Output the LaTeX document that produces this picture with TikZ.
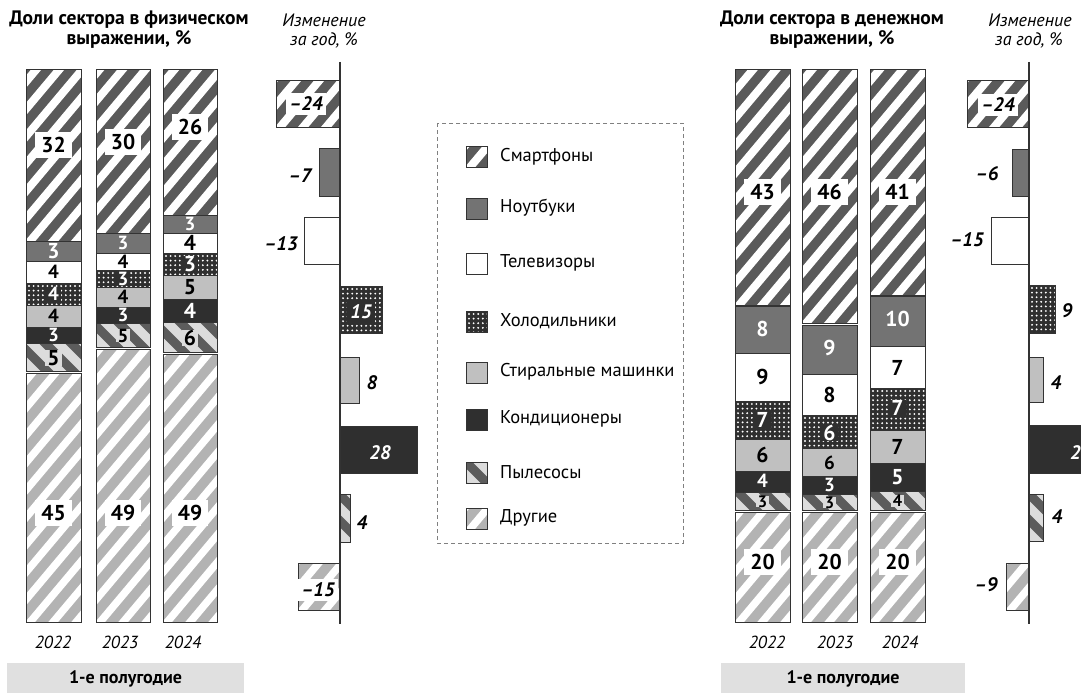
\documentclass[tikz,border=0pt]{standalone}
\usepackage{fontspec}
\setmainfont{PT Sans}
\definecolor{cSmart}{HTML}{5A5A5A}
\definecolor{cNote}{HTML}{737373}
\definecolor{cWash}{HTML}{C0C0C0}
\definecolor{cDark}{HTML}{2F2F2F}
\definecolor{cOther}{HTML}{B3B3B3}
\definecolor{cVacD}{HTML}{5C5C5C}
\definecolor{cVacL}{HTML}{DCDCDC}
\definecolor{cBorder}{HTML}{333333}
\definecolor{cBand}{HTML}{E0E0E0}
\definecolor{cDash}{HTML}{808080}
\newcommand\hatch[9]{%
  \begin{scope}
    \clip (#1,#2) rectangle (#3,#4);
    \fill[#5] (#1,#2) rectangle (#3,#4);
    \foreach \k in {-16,...,8}{
      \draw[#6,line width=#8] ({#1+\k*#7},{#4+5}) -- ++({#9*300},-300);
    }
  \end{scope}}
\newcommand\sgSmart[4]{\hatch{#1}{#2}{#3}{#4}{cSmart}{white}{23}{8}{0.84}\draw[bd] (#1,#2) rectangle (#3,#4);}
\newcommand\sgOther[4]{\hatch{#1}{#2}{#3}{#4}{cOther}{white}{23}{7.5}{0.84}\draw[bd] (#1,#2) rectangle (#3,#4);}
\newcommand\sgVac[4]{\hatch{#1}{#2}{#3}{#4}{cVacL}{cVacD}{26}{9}{-1}\draw[bd] (#1,#2) rectangle (#3,#4);}
\newcommand\sgSolid[5]{\fill[#5] (#1,#2) rectangle (#3,#4);\draw[bd] (#1,#2) rectangle (#3,#4);}
\newcommand\sgFridge[4]{%
  \begin{scope}
    \clip (#1,#2) rectangle (#3,#4);
    \fill[cDark] (#1,#2) rectangle (#3,#4);
    \foreach \i in {0,...,12}{\foreach \j in {0,...,11}{
      \fill[white] ({#1+3+\i*4.6},{#2+3+\j*4.6}) circle (1.05);}}
  \end{scope}
  \draw[bd] (#1,#2) rectangle (#3,#4);}
\tikzset{
  bd/.style={draw=cBorder,line width=0.9pt},
  num/.style={font=\bfseries\fontsize{21.5}{22}\selectfont,inner sep=0pt},
  sm/.style={font=\bfseries\fontsize{19}{19}\selectfont},
  xs/.style={font=\bfseries\fontsize{16.5}{17}\selectfont},
  numw/.style={num,text=white},
  boxw/.style={num,fill=white,inner xsep=6pt,inner ysep=5pt},
  boxv/.style={num,fill=cVacL,inner xsep=2pt,inner ysep=0pt},
  boxd/.style={num,text=white,fill=cDark,inner xsep=2pt,inner ysep=0pt},
  chg/.style={font=\bfseries\itshape\fontsize{19.5}{20}\selectfont,inner sep=0pt},
  chgbox/.style={chg,fill=white,inner xsep=3pt,inner ysep=4pt},
  ttl/.style={font=\bfseries\fontsize{19.5}{20}\selectfont,align=center,inner sep=0pt},
  hdr/.style={font=\itshape\fontsize{18}{20}\selectfont,align=center,inner sep=0pt},
  yr/.style={font=\itshape\fontsize{17.5}{20}\selectfont,inner sep=0pt},
  leg/.style={font=\fontsize{18.5}{20}\selectfont,anchor=west,inner sep=0pt},
  band/.style={fill=cBand},
  bandtxt/.style={font=\bfseries\fontsize{18}{20}\selectfont,inner sep=0pt},
  axis/.style={draw=cBorder,line width=1.2pt}
}
\begin{document}
\begin{tikzpicture}[x=1pt,y=-1pt]
\useasboundingbox (0,0) rectangle (1081,693);
\clip (0,0) rectangle (1081,693);
\fill[white] (0,0) rectangle (1081,693);

% ---------- titles ----------
\node[ttl] (t1a) at (129,20) {Доли сектора в физическом};
\node[ttl] (t1b) at (129,39) {выражении, \%};
\node[hdr] (h1a) at (324,20) {Изменение};
\node[hdr] (h1b) at (324,40) {за год, \%};
\node[ttl] (t2a) at (832,20) {Доли сектора в денежном};
\node[ttl] (t2b) at (832,39) {выражении, \%};
\node[hdr] (h2a) at (1030,20) {Изменение};
\node[hdr] (h2b) at (1029,40) {за год, \%};

% ---------- left bars ----------
% 2022
\sgSmart{26}{69}{81}{241}
\sgSolid{26}{241}{81}{261}{cNote}
\sgSolid{26}{261}{81}{283}{white}
\sgFridge{26}{283}{81}{305}
\sgSolid{26}{305}{81}{327}{cWash}
\sgSolid{26}{327}{81}{343}{cDark}
\sgVac{26}{343}{81}{371}
\sgOther{26}{373}{81}{622}
% 2023
\sgSmart{96}{69}{150}{233}
\sgSolid{96}{233}{150}{253}{cNote}
\sgSolid{96}{253}{150}{270}{white}
\sgFridge{96}{270}{150}{287}
\sgSolid{96}{287}{150}{307}{cWash}
\sgSolid{96}{307}{150}{323}{cDark}
\sgVac{96}{323}{150}{347}
\sgOther{96}{349}{150}{622}
% 2024
\sgSmart{163}{69}{217}{215}
\sgSolid{163}{215}{217}{233}{cNote}
\sgSolid{163}{233}{217}{253}{white}
\sgFridge{163}{253}{217}{275}
\sgSolid{163}{275}{217}{299}{cWash}
\sgSolid{163}{299}{217}{322}{cDark}
\sgVac{163}{322}{217}{352}
\sgOther{163}{354}{217}{622}

% labels left bars
\node[boxw] (l1s) at (53.5,145) {32};
\node[boxw] (l2s) at (123,142) {30};
\node[boxw] (l3s) at (190,127) {26};
\node[numw] (l1n) at (53.5,251) {3};
\node[numw,sm] (l2n) at (123,243) {3};
\node[numw,sm] (l3n) at (190,224) {3};
\node[num,sm] (l1t) at (53.5,272) {4};
\node[num,sm] (l2t) at (123,261.5) {4};
\node[num] (l3t) at (190,243) {4};
\node[boxd,sm] (l1f) at (53.5,294) {4};
\node[boxd,sm] (l2f) at (123,278.5) {3};
\node[boxd] (l3f) at (190,264) {3};
\node[num,sm] (l1w) at (53.5,316) {4};
\node[num,sm] (l2w) at (123,297) {4};
\node[num] (l3w) at (190,287) {5};
\node[numw,sm] (l1a) at (53.5,335) {3};
\node[numw,sm] (l2a) at (123,315) {3};
\node[numw] (l3a) at (190,310.5) {4};
\node[boxv] (l1v) at (53.5,358) {5};
\node[boxv,sm] (l2v) at (123,335.5) {5};
\node[boxv] (l3v) at (190,338) {6};
\node[boxw] (l1o) at (53.5,513) {45};
\node[boxw] (l2o) at (123,513) {49};
\node[boxw] (l3o) at (190,513) {49};

% years left
\node[yr] (y1a) at (53,642) {2022};
\node[yr] (y1b) at (120,642) {2023};
\node[yr] (y1c) at (183,642) {2024};
\fill[band] (7,663) rectangle (244,693);
\node[bandtxt] (b1) at (125.5,679) {1-е полугодие};

% ---------- left change column ----------
\sgSmart{276}{80}{340}{127}
\sgSolid{319}{148}{340}{196}{cNote}
\sgSolid{304}{217}{340}{264}{white}
\sgFridge{340}{286}{382}{333}
\sgSolid{340}{357}{359}{403}{cWash}
\sgSolid{340}{426}{417}{473}{cDark}
\sgVac{340}{494}{350}{542}
\sgOther{298}{563}{340}{610}
\draw[axis] (340,62) coordinate (ax1t) -- (340,624) coordinate (ax1b);
\node[chgbox] (c1s) at (306,104) {–24};
\node[chg] (c1n) at (300,176) {–7};
\node[chg] (c1t) at (281,244) {–13};
\node[chg,text=white,fill=cDark,inner xsep=3pt,inner ysep=5pt] (c1f) at (361,312) {15};
\node[chg] (c1w) at (372,383) {8};
\node[chg,text=white] (c1a) at (380,453) {28};
\node[chg] (c1v) at (362,523) {4};
\node[chgbox] (c1o) at (318,590) {–15};

% ---------- legend ----------
\draw[cDash,line width=0.8pt,dash pattern=on 4pt off 3pt] (437,123) rectangle (683,543);
\sgSmart{466}{146}{487}{167}
\node[leg] (g1) at (500,157) {Смартфоны};
\sgSolid{466}{198}{487}{219}{cNote}
\node[leg] (g2) at (500,208) {Ноутбуки};
\sgSolid{466}{253}{487}{274}{white}
\node[leg] (g3) at (500,263) {Телевизоры};
\sgFridge{466}{311}{487}{332}
\node[leg] (g4) at (500,321) {Холодильники};
\sgSolid{466}{362}{487}{383}{cWash}
\node[leg] (g5) at (500,372) {Стиральные машинки};
\sgSolid{466}{409}{487}{430}{cDark}
\node[leg] (g6) at (500,419) {Кондиционеры};
\sgVac{466}{462}{487}{483}
\node[leg] (g7) at (500,472) {Пылесосы};
\sgOther{466}{508}{487}{529}
\node[leg] (g8) at (500,518) {Другие};

% ---------- right bars ----------
% 2022
\sgSmart{735}{69}{790}{305}
\sgSolid{735}{306}{790}{353}{cNote}
\sgSolid{735}{353}{790}{401}{white}
\sgFridge{735}{401}{790}{439}
\sgSolid{735}{439}{790}{471}{cWash}
\sgSolid{735}{471}{790}{492}{cDark}
\sgVac{735}{492}{790}{510}
\sgOther{735}{512}{790}{622}
% 2023
\sgSmart{802}{69}{857}{323}
\sgSolid{802}{325}{857}{374}{cNote}
\sgSolid{802}{374}{857}{415}{white}
\sgFridge{802}{415}{857}{447}
\sgSolid{802}{448}{857}{476}{cWash}
\sgSolid{802}{476}{857}{494}{cDark}
\sgVac{802}{494}{857}{510}
\sgOther{802}{512}{857}{622}
% 2024
\sgSmart{870}{69}{925}{295}
\sgSolid{870}{296}{925}{346}{cNote}
\sgSolid{870}{346}{925}{388}{white}
\sgFridge{870}{388}{925}{430}
\sgSolid{870}{430}{925}{463}{cWash}
\sgSolid{870}{463}{925}{491}{cDark}
\sgVac{870}{491}{925}{510}
\sgOther{870}{512}{925}{622}

% labels right bars
\node[boxw] (r1s) at (762.5,192) {43};
\node[boxw] (r2s) at (829.5,192) {46};
\node[boxw] (r3s) at (897.5,192) {41};
\node[numw] (r1n) at (762.5,329) {8};
\node[numw] (r2n) at (829.5,348) {9};
\node[numw] (r3n) at (897.5,319) {10};
\node[num] (r1t) at (762.5,377) {9};
\node[num] (r2t) at (829.5,395) {8};
\node[num] (r3t) at (897.5,368) {7};
\node[boxd] (r1f) at (762.5,420) {7};
\node[boxd] (r2f) at (829.5,433) {6};
\node[boxd] (r3f) at (897.5,408) {7};
\node[num] (r1w) at (762.5,455) {6};
\node[num,sm] (r2w) at (829.5,462.5) {6};
\node[num] (r3w) at (897.5,447) {7};
\node[numw,sm] (r1a) at (762.5,481) {4};
\node[numw,sm] (r2a) at (829.5,484.5) {3};
\node[numw] (r3a) at (897.5,477) {5};
\node[boxv,xs] (r1v) at (762.5,501.5) {3};
\node[boxv,xs] (r2v) at (829.5,502.5) {3};
\node[boxv,xs] (r3v) at (897.5,501) {4};
\node[boxw] (r1o) at (762.5,562) {20};
\node[boxw] (r2o) at (829.5,562) {20};
\node[boxw] (r3o) at (897.5,562) {20};

% years right
\node[yr] (y2a) at (767,642) {2022};
\node[yr] (y2b) at (835,642) {2023};
\node[yr] (y2c) at (900,642) {2024};
\fill[band] (721,663) rectangle (965,693);
\node[bandtxt] (b2) at (843,679) {1-е полугодие};

% ---------- right change column ----------
\sgSmart{967}{80}{1029}{127}
\sgSolid{1012}{149}{1029}{196}{cNote}
\sgSolid{991}{217}{1029}{264}{white}
\sgFridge{1029}{285}{1055}{333}
\sgSolid{1029}{357}{1043}{402}{cWash}
\sgSolid{1029}{425}{1095}{473}{cDark}
\sgVac{1029}{494}{1043}{541}
\sgOther{1006}{563}{1029}{610}
\draw[axis] (1029,62) coordinate (ax2t) -- (1029,624) coordinate (ax2b);
\node[chgbox] (c2s) at (998,105) {–24};
\node[chg] (c2n) at (987,174) {–6};
\node[chg] (c2t) at (967,240) {–15};
\node[chg] (c2f) at (1067,311) {9};
\node[chg] (c2w) at (1056,383) {4};
\node[chg,text=white,anchor=west] (c2a) at (1070,453) {2};
\node[chg] (c2v) at (1057,517) {4};
\node[chg] (c2o) at (986,585) {–9};
\end{tikzpicture}
\end{document}
